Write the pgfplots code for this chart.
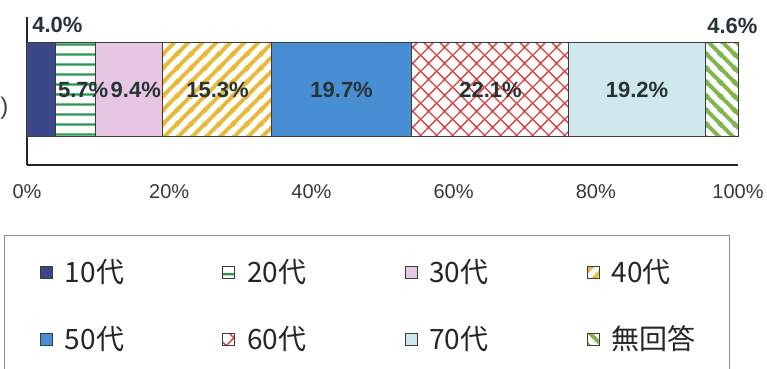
\documentclass[border=0pt]{standalone}
\usepackage{pgfplots}
\pgfplotsset{compat=1.18}
\usepackage{fontspec}
\setmainfont{Liberation Sans}
\newfontfamily\jp{Noto Sans CJK JP}
\usetikzlibrary{patterns}

\definecolor{c10}{RGB}{58,72,138}
\definecolor{c20}{RGB}{40,150,80}
\definecolor{c30}{RGB}{230,198,226}
\definecolor{c40}{RGB}{230,186,60}
\definecolor{c50}{RGB}{72,142,210}
\definecolor{c60}{RGB}{225,60,60}
\definecolor{c70}{RGB}{206,232,238}
\definecolor{cNA}{RGB}{130,180,80}
\definecolor{edge}{RGB}{60,60,60}
\definecolor{lbl}{RGB}{40,52,52}

% horizontal lines, pitch 5pt, width 1.2pt
\pgfdeclarepatternformonly{hl}{\pgfqpoint{0pt}{0pt}}{\pgfqpoint{5pt}{5pt}}{\pgfqpoint{5pt}{5pt}}{%
  \pgfsetlinewidth{1.2pt}%
  \pgfpathmoveto{\pgfqpoint{-1pt}{2.5pt}}\pgfpathlineto{\pgfqpoint{6pt}{2.5pt}}\pgfusepath{stroke}}
% thick north-east stripes
\pgfdeclarepatternformonly{ne}{\pgfqpoint{0pt}{0pt}}{\pgfqpoint{6.8pt}{6.8pt}}{\pgfqpoint{6.8pt}{6.8pt}}{%
  \pgfsetlinewidth{2pt}%
  \pgfpathmoveto{\pgfqpoint{-1pt}{-1pt}}\pgfpathlineto{\pgfqpoint{7.8pt}{7.8pt}}%
  \pgfpathmoveto{\pgfqpoint{-1pt}{5.8pt}}\pgfpathlineto{\pgfqpoint{1pt}{7.8pt}}%
  \pgfpathmoveto{\pgfqpoint{5.8pt}{-1pt}}\pgfpathlineto{\pgfqpoint{7.8pt}{1pt}}%
  \pgfusepath{stroke}}
% thick north-west stripes
\pgfdeclarepatternformonly{nw}{\pgfqpoint{0pt}{0pt}}{\pgfqpoint{6.8pt}{6.8pt}}{\pgfqpoint{6.8pt}{6.8pt}}{%
  \pgfsetlinewidth{2pt}%
  \pgfpathmoveto{\pgfqpoint{-1pt}{7.8pt}}\pgfpathlineto{\pgfqpoint{7.8pt}{-1pt}}%
  \pgfpathmoveto{\pgfqpoint{-1pt}{1pt}}\pgfpathlineto{\pgfqpoint{1pt}{-1pt}}%
  \pgfpathmoveto{\pgfqpoint{5.8pt}{7.8pt}}\pgfpathlineto{\pgfqpoint{7.8pt}{5.8pt}}%
  \pgfusepath{stroke}}
% diagonal crosshatch
\pgfdeclarepatternformonly{xh}{\pgfqpoint{0pt}{0pt}}{\pgfqpoint{7.8pt}{7.8pt}}{\pgfqpoint{7.8pt}{7.8pt}}{%
  \pgfsetlinewidth{0.7pt}%
  \pgfpathmoveto{\pgfqpoint{-1pt}{-1pt}}\pgfpathlineto{\pgfqpoint{8.8pt}{8.8pt}}%
  \pgfpathmoveto{\pgfqpoint{-1pt}{8.8pt}}\pgfpathlineto{\pgfqpoint{8.8pt}{-1pt}}%
  \pgfusepath{stroke}}

\pgfplotsset{sq/.style={legend image code/.code={\draw[##1, draw=edge, line width=0.4pt] (0pt,-3pt) rectangle (6pt,3pt);}}}

\begin{document}
\begin{tikzpicture}
\useasboundingbox (0,0) rectangle (383.5pt,184.5pt);
\begin{axis}[
  at={(13.5pt,102pt)}, anchor=south west,
  scale only axis, width=355.5pt, height=74pt,
  xbar stacked, bar width=47pt,
  xmin=0, xmax=100, ymin=0, ymax=1,
  axis x line*=bottom, axis y line*=left,
  axis line style={-, draw=black!85, line width=0.8pt},
  xtick={0,20,40,60,80,100},
  xticklabels={0\%,20\%,40\%,60\%,80\%,100\%},
  xtick style={draw=none}, ytick=\empty,
  xticklabel shift=6pt,
  x tick label style={font=\fontsize{10}{12}\selectfont, text=black!78},
  clip=false,
  legend columns=4,
  legend style={at={(-0.033,-0.473)}, anchor=north west, draw=black!45, line width=0.6pt,
     inner xsep=18pt, inner ysep=11pt, row sep=18pt,
     font=\fontsize{14}{16}\selectfont\jp, text=black!85,
     nodes={text width=40pt, inner xsep=1pt, inner ysep=1pt, align=left},
     /tikz/every odd column/.append style={column sep=5pt},
     /tikz/every even column/.append style={column sep=37.7pt}},
]
\addplot[fill=c10, draw=edge, line width=0.5pt, sq] coordinates {(4.0,0.507)};
\addplot[pattern=hl, pattern color=c20, draw=edge, line width=0.5pt, sq] coordinates {(5.7,0.507)};
\addplot[fill=c30, draw=edge, line width=0.5pt, sq] coordinates {(9.4,0.507)};
\addplot[pattern=ne, pattern color=c40, draw=edge, line width=0.5pt, sq] coordinates {(15.3,0.507)};
\addplot[fill=c50, draw=edge, line width=0.5pt, sq] coordinates {(19.7,0.507)};
\addplot[pattern=xh, pattern color=c60, draw=edge, line width=0.5pt, sq] coordinates {(22.1,0.507)};
\addplot[fill=c70, draw=edge, line width=0.5pt, sq] coordinates {(19.2,0.507)};
\addplot[pattern=nw, pattern color=cNA, draw=edge, line width=0.5pt, sq] coordinates {(4.6,0.507)};
\legend{10代,20代,30代,40代,50代,60代,70代,無回答}

\coordinate (L1) at (axis cs:0.7,0.946);
\coordinate (L8) at (axis cs:102.8,0.939);
\coordinate (L2) at (axis cs:7.9,0.507);
\coordinate (L3) at (axis cs:15.3,0.507);
\coordinate (L4) at (axis cs:26.8,0.507);
\coordinate (L5) at (axis cs:44.25,0.507);
\coordinate (L6) at (axis cs:65.2,0.507);
\coordinate (L7) at (axis cs:85.8,0.507);
\coordinate (LY) at (axis cs:-3.8,0.385);
\end{axis}
\begin{scope}[every node/.style={inner sep=0pt, font=\bfseries\fontsize{11}{13}\selectfont, text=lbl}]
\node[anchor=west] at (L1) {4.0\%};
\node[anchor=east] at (L8) {4.6\%};
\node at (L2) {5.7\%};
\node at (L3) {9.4\%};
\node at (L4) {15.3\%};
\node at (L5) {19.7\%};
\node at (L6) {22.1\%};
\node at (L7) {19.2\%};
\end{scope}
\node[anchor=west, inner sep=0pt, font=\fontsize{12}{14}\selectfont, text=black!75] at (LY) {)};
\end{tikzpicture}
\end{document}
